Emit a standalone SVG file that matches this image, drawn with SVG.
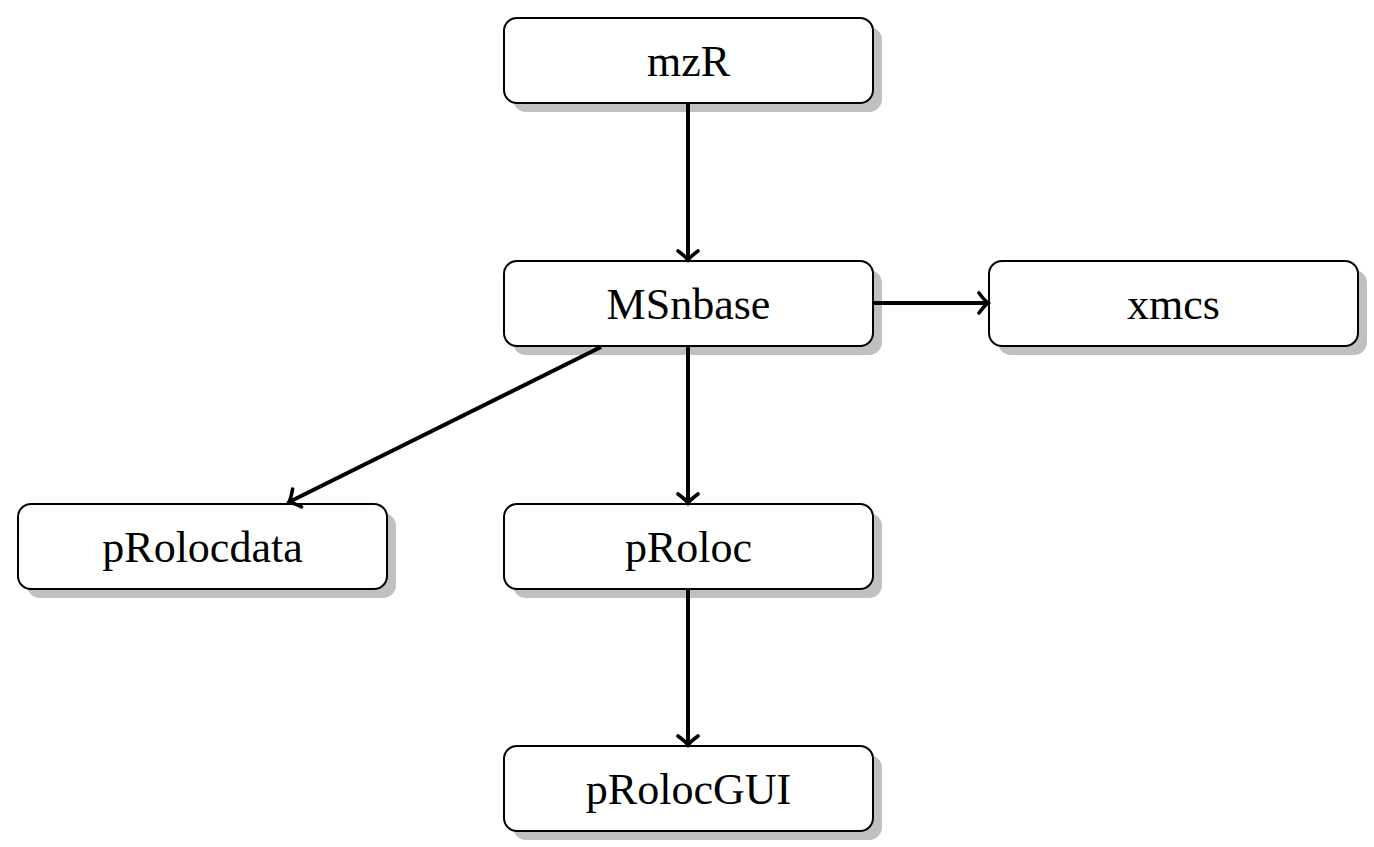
<svg xmlns="http://www.w3.org/2000/svg" width="1374" height="847" viewBox="0 0 1374 847">
<style>
.shadow{fill:#c0c0c0;stroke:none}
.box{fill:#ffffff;stroke:#000000;stroke-width:2}
.lbl{font-family:"Liberation Serif","DejaVu Serif",serif;font-size:44px;fill:#000000;text-anchor:middle}
.edge{fill:none;stroke:#000000;stroke-width:4;marker-end:url(#arr)}
</style>
<defs>
<marker id="arr" viewBox="-12 -12 16 24" refX="0" refY="0" markerWidth="16" markerHeight="24" markerUnits="userSpaceOnUse" orient="auto">
<path d="M -9,-10 Q -3,-2 0,0 Q -3,2 -9,10" fill="none" stroke="#000000" stroke-width="3.6" stroke-linecap="round"/>
</marker>
</defs>
<rect width="1374" height="847" fill="#ffffff"/>
<g id="mzR">
<rect class="shadow" x="513" y="27" width="369" height="85" rx="13"/>
<rect class="box" x="504" y="18" width="369" height="85" rx="13"/>
<text class="lbl" x="688.5" y="76">mzR</text>
</g>
<g id="MSnbase">
<rect class="shadow" x="513" y="270" width="369" height="85" rx="13"/>
<rect class="box" x="504" y="261" width="369" height="85" rx="13"/>
<text class="lbl" x="688.5" y="319">MSnbase</text>
</g>
<g id="xmcs">
<rect class="shadow" x="998" y="270" width="369" height="85" rx="13"/>
<rect class="box" x="989" y="261" width="369" height="85" rx="13"/>
<text class="lbl" x="1173.5" y="319">xmcs</text>
</g>
<g id="pRolocdata">
<rect class="shadow" x="27" y="513" width="369" height="85" rx="13"/>
<rect class="box" x="18" y="504" width="369" height="85" rx="13"/>
<text class="lbl" x="202.5" y="562">pRolocdata</text>
</g>
<g id="pRoloc">
<rect class="shadow" x="513" y="513" width="369" height="85" rx="13"/>
<rect class="box" x="504" y="504" width="369" height="85" rx="13"/>
<text class="lbl" x="688.5" y="562">pRoloc</text>
</g>
<g id="pRolocGUI">
<rect class="shadow" x="513" y="755" width="369" height="85" rx="13"/>
<rect class="box" x="504" y="746" width="369" height="85" rx="13"/>
<text class="lbl" x="688.5" y="804">pRolocGUI</text>
</g>
<g id="connectors">
<line class="edge" x1="688" y1="103" x2="688" y2="260"/>
<line class="edge" x1="873" y1="303" x2="988" y2="303"/>
<line class="edge" x1="601" y1="347" x2="289" y2="502"/>
<line class="edge" x1="688" y1="346" x2="688" y2="503"/>
<line class="edge" x1="688" y1="589" x2="688" y2="745"/>
</g>
</svg>
